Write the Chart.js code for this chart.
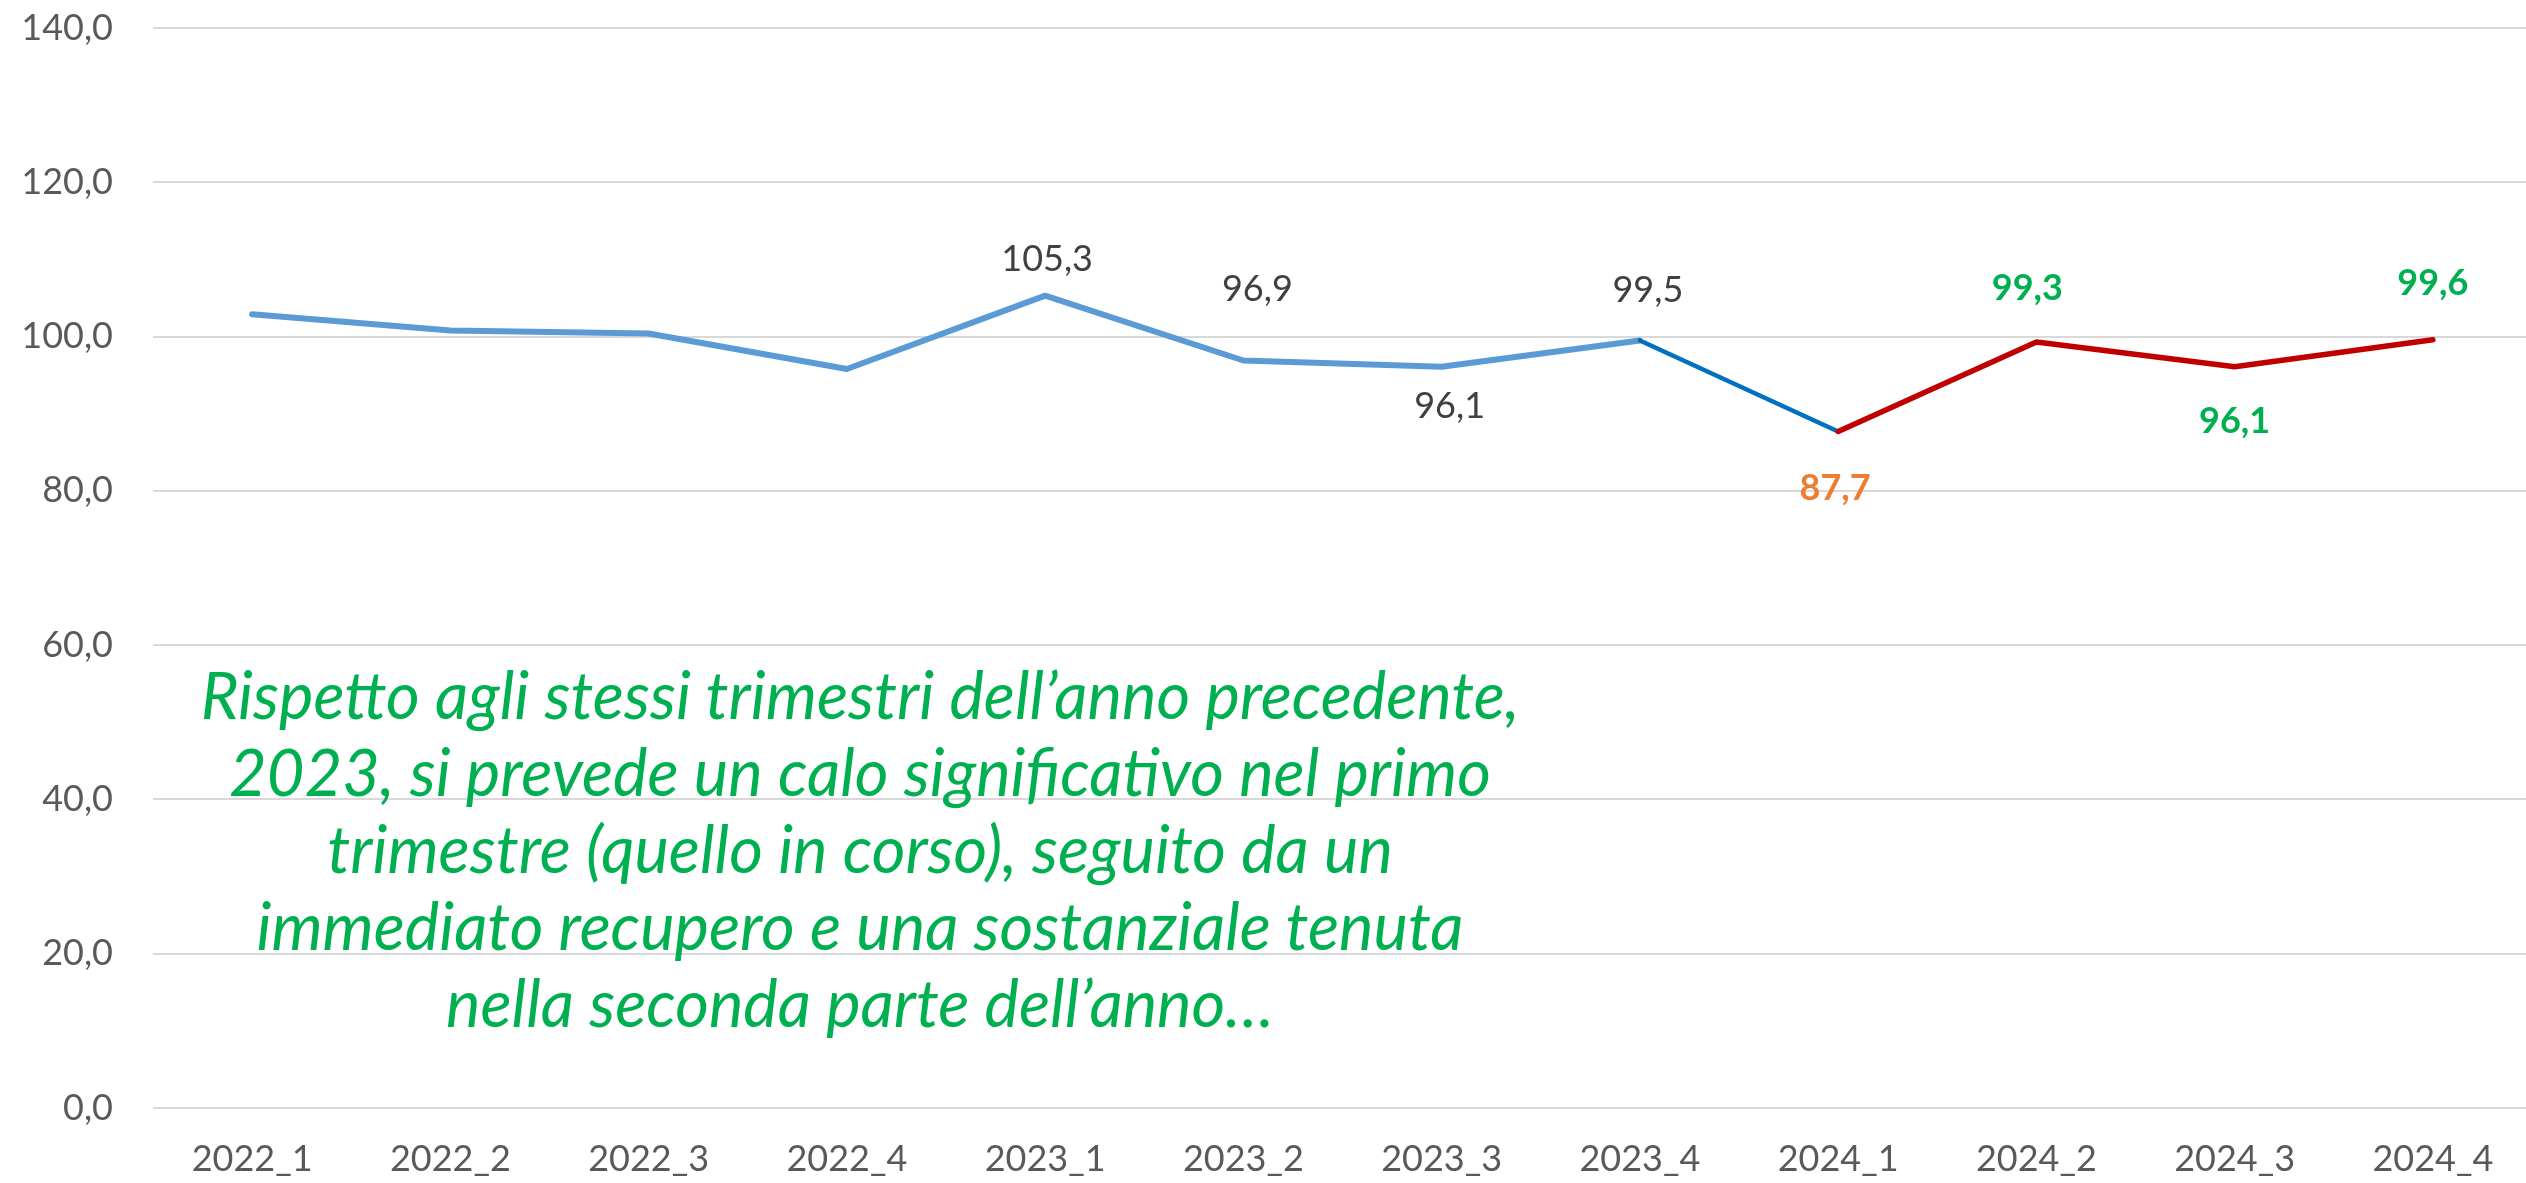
<!DOCTYPE html>
<html>
<head>
<meta charset="utf-8">
<script src="https://cdn.jsdelivr.net/npm/chart.js@4.4.1/dist/chart.umd.min.js"></script>
<style>
  html, body { margin: 0; padding: 0; background: #fff; overflow: hidden; }
  #wrap { position: relative; width: 2532px; height: 1183px; }
  #note {
    position: absolute; left: 160px; top: 656px; width: 1400px;
    font-family: Lato, sans-serif; font-style: italic; font-size: 65px;
    line-height: 77px; color: #00B050; text-align: center; white-space: nowrap;
  }
</style>
</head>
<body>
<div id="wrap">
  <canvas id="chartLine"></canvas>
  <div id="note">Rispetto agli stessi trimestri dell’anno precedente,<br>2023, si prevede un calo significativo nel primo<br>trimestre (quello in corso), seguito da un<br>immediato recupero e una sostanziale tenuta<br>nella seconda parte dell’anno…</div>
</div>
<script>
var categories = ['2022_1', '2022_2', '2022_3', '2022_4', '2023_1', '2023_2', '2023_3', '2023_4', '2024_1', '2024_2', '2024_3', '2024_4'];
var values = [102.9, 100.8, 100.4, 95.8, 105.3, 96.9, 96.1, 99.5, 87.7, 99.3, 96.1, 99.6];
var yTicks = [0, 20, 40, 60, 80, 100, 120, 140];

// label styling: which points carry a value label and how it is drawn
var labelColor = [null, null, null, null, '#404040', '#404040', '#404040', '#404040', '#ED7D31', '#00B050', '#00B050', '#00B050'];
var labelBold = [false, false, false, false, false, false, false, false, true, true, true, true];
var labelDx = [0, 0, 0, 0, 2, 14, 8, 8, -3, -9, 0, 0];
var labelDy = [0, 0, 0, 0, -38, -72, 38, -51, 56, -55, 53, -58];

function fmt(v) {
  return v.toFixed(1).replace('.', ',');
}

function segColor(ctx) {
  var i = ctx.p0DataIndex;
  if (i < 7) return '#5B9BD5';
  if (i === 7) return '#0070C0';
  return '#C00000';
}

function segWidth(ctx) {
  var i = ctx.p0DataIndex;
  if (i < 7) return 6;
  if (i === 7) return 4.5;
  return 5.5;
}

var valueLabels = {
  id: 'valueLabels',
  afterDatasetsDraw: function (chart) {
    var c = chart.ctx;
    var meta = chart.getDatasetMeta(0);
    c.save();
    c.textAlign = 'center';
    c.textBaseline = 'alphabetic';
    meta.data.forEach(function (pt, i) {
      if (!labelColor[i]) return;
      c.fillStyle = labelColor[i];
      c.font = (labelBold[i] ? 'bold ' : '') + '36px Lato';
      c.fillText(fmt(values[i]), pt.x + labelDx[i], pt.y + labelDy[i] + 13);
    });
    c.restore();
  }
};

var graph = document.getElementById('chartLine');

var chartLine = new Chart(graph, {
  type: 'line',
  data: {
    labels: categories,
    datasets: [{
      data: values,
      borderColor: '#5B9BD5',
      borderWidth: 6,
      borderCapStyle: 'round',
      borderJoinStyle: 'round',
      pointRadius: 0,
      pointHoverRadius: 0,
      tension: 0,
      segment: {
        borderColor: segColor,
        borderWidth: segWidth
      }
    }]
  },
  options: {
    responsive: true,
    maintainAspectRatio: false,
    animation: false,
    layout: { padding: { top: 28, left: 0, right: 0, bottom: 0 } },
    plugins: {
      legend: { display: false },
      tooltip: { enabled: false }
    },
    scales: {
      x: {
        offset: true,
        grid: { display: false, drawTicks: false },
        border: { display: false },
        ticks: {
          color: '#595959',
          font: { family: 'Lato', size: 36 },
          padding: 30,
          maxRotation: 0,
          autoSkip: false
        },
        afterFit: function (scale) {
          scale.height = 75;
          scale.paddingLeft = 0;
          scale.paddingRight = 0;
        }
      },
      y: {
        min: 0,
        max: 140,
        afterBuildTicks: function (scale) {
          scale.ticks = yTicks.map(function (v) { return { value: v }; });
        },
        grid: { color: '#D9D9D9', lineWidth: 2, drawTicks: false },
        border: { display: false },
        ticks: {
          color: '#595959',
          font: { family: 'Lato', size: 36 },
          padding: 40,
          callback: function (v) { return fmt(v); }
        },
        afterFit: function (scale) {
          scale.width = 153;
          scale.paddingTop = 0;
          scale.paddingBottom = 0;
        }
      }
    }
  },
  plugins: [valueLabels]
});
</script>
</body>
</html>
